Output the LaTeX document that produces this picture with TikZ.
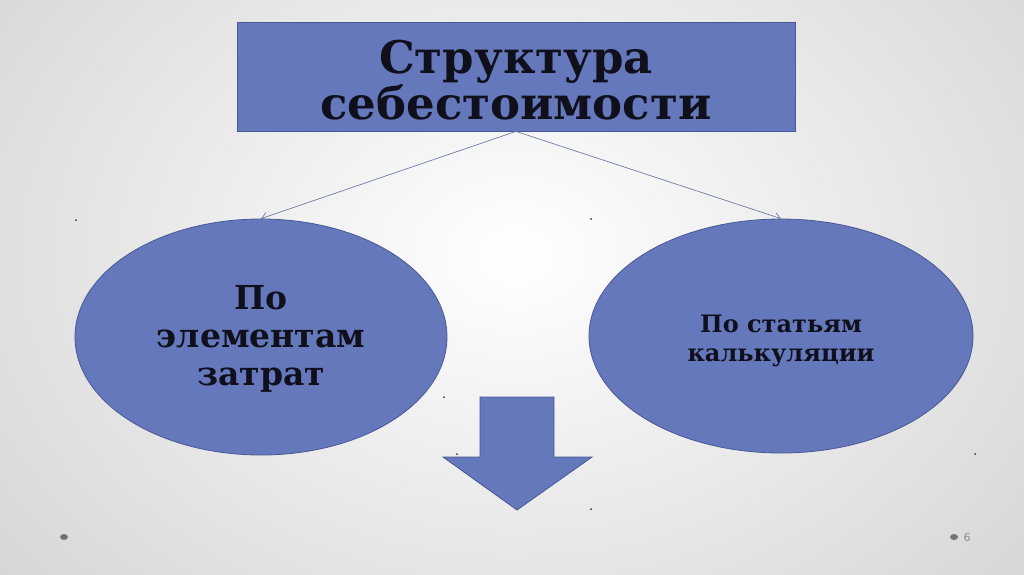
\documentclass[tikz,border=0pt]{standalone}
\usepackage{fontspec}
\setmainfont{DejaVu Serif}
\newfontfamily\numfont{DejaVu Sans}
\usetikzlibrary{arrows.meta,shapes.geometric}
\definecolor{boxblue}{RGB}{101,120,187}
\definecolor{boxedge}{RGB}{72,88,150}
\definecolor{txt}{RGB}{16,16,28}
\definecolor{linkc}{RGB}{112,126,165}
\tikzset{
  blueshape/.style={fill=boxblue, draw=boxedge, line width=0.8pt},
  titlebox/.style={blueshape, rectangle, minimum width=558pt, minimum height=109pt, inner sep=0pt, align=center, text=txt, font=\fontsize{45}{42}\selectfont\bfseries},
  oval/.style={blueshape, ellipse, inner sep=0pt, align=center, text=txt},
  lbl/.style={align=center, text=txt, inner sep=0pt},
  link/.style={draw=linkc, line width=0.7pt, -{Straight Barb[length=6pt,width=8pt]}},
  speck/.style={fill=black!80, circle, inner sep=0pt, minimum size=2pt},
}
\begin{document}
\begin{tikzpicture}[x=1pt,y=-1pt]
\useasboundingbox (0,0) rectangle (1024,574);
\shade[inner color=white, outer color=black!16] (-150,-250) rectangle (1180,760);
% title
\node[titlebox] (title) at (516,76.5) {};
\node[lbl, font=\fontsize{45}{42}\selectfont\bfseries] (titletext) at (516,80) {Структура\\себестоимости};
% ellipses
\node[oval, minimum width=372pt, minimum height=236pt] (left) at (261,337) {};
\node[lbl, font=\fontsize{33}{38}\selectfont\bfseries] (lefttext) at (261,339) {По\\элементам\\затрат};
\node[oval, minimum width=384pt, minimum height=234pt] (right) at (781,336) {};
\node[lbl, font=\fontsize{24}{29}\selectfont\bfseries] (righttext) at (781,341) {По статьям\\калькуляции};
% connectors
\draw[link] (title.south) -- (left.north);
\draw[link] (title.south) -- (right.north);
% block arrow
\draw[blueshape] (480,397) -- (554,397) -- (554,457) -- (592,457) -- (517,510) -- (443,457) -- (480,457) -- cycle;
% specks
\node[speck] (s1) at (76,220) {};
\node[speck] (s2) at (591,219) {};
\node[speck] (s3) at (444,397) {};
\node[speck] (s4) at (457,454) {};
\node[speck] (s5) at (975,454) {};
\node[speck] (s6) at (591,509) {};
% footer
\node[fill=black!55, ellipse, minimum width=8pt, minimum height=6pt, inner sep=0pt] (b1) at (64,537) {};
\node[fill=black!55, ellipse, minimum width=8pt, minimum height=6pt, inner sep=0pt] (b2) at (954,537) {};
\node[text=black!45, inner sep=0pt] (pg) at (967,537) {\numfont\fontsize{11}{12}\selectfont 6};
\end{tikzpicture}
\end{document}
